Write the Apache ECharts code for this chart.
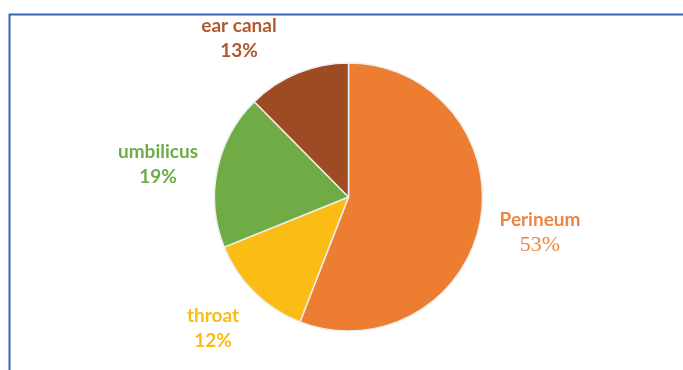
<!DOCTYPE html>
<html><head><meta charset="utf-8">
<script src="https://cdn.jsdelivr.net/npm/echarts@6/dist/echarts.min.js"></script>
<style>html,body{margin:0;padding:0;background:#fff}#c{width:683px;height:370px}</style>
</head><body><div id="c"></div>
<script>
var categories = ['Perineum', 'throat', 'umbilicus', 'ear canal'];
// slice sizes as drawn in the picture (share of the circle, %)
var sliceShares = [55.9, 13.0, 18.7, 12.4];
// percentages printed on the labels
var percentLabels = ['53%', '12%', '19%', '13%'];
var sliceColors = ['#ED7D31', '#FBBC15', '#6FAC46', '#9E4A22'];
var labelColors = ['#EE8540', '#FBBC15', '#6FAC46', '#B0582E'];
var labelPos = [[540, 233], [213, 328], [158, 164], [239, 38]];

var chart = echarts.init(document.getElementById('c'));
chart.setOption({
  animation: false,
  graphic: [{
    type: 'polyline', silent: true,
    shape: { points: [[9.5, 370], [9.5, 14.5], [683, 14.5]] },
    style: { stroke: '#3A62B5', lineWidth: 2, fill: null }
  }],
  series: [{
    type: 'pie',
    center: [348.5, 197],
    radius: 134,
    startAngle: 90,
    clockwise: true,
    itemStyle: { borderColor: '#eeeeee', borderWidth: 1.5 },
    labelLine: { show: false },
    label: {
      show: true,
      position: 'outside',
      formatter: function (p) {
        var pct = '{p' + (p.dataIndex === 0 ? 's' : '') + '|' + percentLabels[p.dataIndex] + '}';
        return '{n|' + p.name + '}\n' + pct;
      },
      rich: {
        n: { fontFamily: 'Lato', fontWeight: 'bold', fontSize: 19, lineHeight: 25 },
        p: { fontFamily: 'Lato', fontWeight: 'bold', fontSize: 19, lineHeight: 25 },
        ps: { fontFamily: 'Liberation Serif', fontWeight: 'normal', fontSize: 22, lineHeight: 27 }
      },
      align: 'center'
    },
    labelLayout: function (params) {
      var pos = labelPos[params.dataIndex];
      return { x: pos[0], y: pos[1], align: 'center', verticalAlign: 'middle' };
    },
    data: categories.map(function (c, i) {
      return {
        name: c, value: sliceShares[i],
        itemStyle: { color: sliceColors[i] },
        label: { color: labelColors[i] }
      };
    })
  }]
});
</script></body></html>
